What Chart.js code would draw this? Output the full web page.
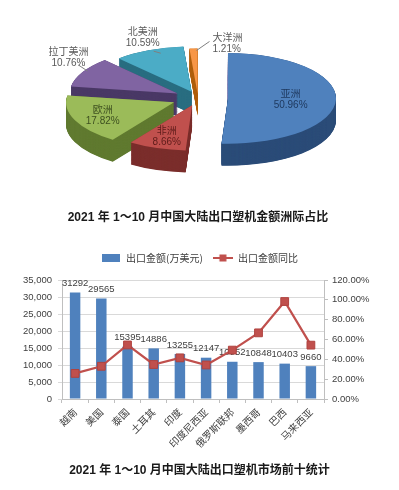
<!DOCTYPE html>
<html>
<head>
<meta charset="utf-8">
<script src="https://cdn.jsdelivr.net/npm/chart.js@4.4.1/dist/chart.umd.min.js"></script>
<style>
html,body{margin:0;padding:0;background:#fff;}
#wrap{position:relative;width:399px;height:490px;overflow:hidden;background:#fff;}
#pie{position:absolute;left:0;top:0;}
#bar{position:absolute;left:0;top:240px;}
</style>
</head>
<body>
<div id="wrap">
<canvas id="pie" width="399" height="240"></canvas>
<canvas id="bar" width="399" height="250"></canvas>
</div>
<script>
// ---------- data ----------
const continents = ['亚洲', '非洲', '欧洲', '拉丁美洲', '北美洲', '大洋洲'];
const continentShares = [50.96, 8.66, 17.82, 10.76, 10.59, 1.21];

const countries = ['越南', '美国', '泰国', '土耳其', '印度', '印度尼西亚', '俄罗斯联邦', '墨西哥', '巴西', '马来西亚'];
const exportValues = [31292, 29565, 15395, 14886, 13255, 12147, 10952, 10848, 10403, 9660];
const yoyGrowth = [25.8, 33.0, 54.5, 34.8, 41.5, 34.3, 49.3, 66.7, 98.3, 54.3];

const pieTitle = '2021 年 1～10 月中国大陆出口塑机金额洲际占比';
const barTitle = '2021 年 1～10 月中国大陆出口塑机市场前十统计';
const seriesNames = ['出口金额(万美元)', '出口金额同比'];

// ---------- styles ----------
const CJK = '"Noto Sans CJK SC", "Liberation Sans", sans-serif';
const LAT = '"Liberation Sans", "Noto Sans CJK SC", sans-serif';
const pieColors = ['#4F81BD', '#C0504D', '#9BBB59', '#8064A2', '#4BACC6', '#F79646'];
const pieSides  = ['#2B4C78', '#7B2E2C', '#607A30', '#4A3966', '#2A6E80', '#B0600F'];
const pieExplode = [30, 18, 26, 23, 16, 10]; // explosion distance (unsquashed px)
const TILT = 0.42;
const DEPTH = 22; // screen px

function halfOf(el) { return (el.startAngle + el.endAngle) / 2; }

// 3D pie: squash, explode and extrude the library's arc elements
const pie3d = {
  id: 'pie3d',
  beforeDatasetsDraw(chart, args, o) {
    const ctx = chart.ctx;
    const meta = chart.getDatasetMeta(0);
    const cx = meta.data[0].x, cy = meta.data[0].y;
    ctx.save();
    ctx.translate(cx, cy);
    ctx.scale(1, o.tilt);
    ctx.translate(-cx, -cy);
    const idx = meta.data.map((e, i) => i);
    idx.sort((a, b) => Math.sin(halfOf(meta.data[a])) - Math.sin(halfOf(meta.data[b])));
    const depthU = o.depth / o.tilt;
    // side walls
    for (const i of idx) {
      const el = meta.data[i];
      const h = halfOf(el);
      const dx = Math.cos(h) * o.explode[i], dy = Math.sin(h) * o.explode[i];
      const orig = el.options;
      el.options = Object.assign({}, orig, {backgroundColor: o.sideColors[i], borderColor: o.sideColors[i], borderWidth: 0});
      for (let d = depthU; d > 0; d -= 1) {
        ctx.save();
        ctx.translate(dx, dy + d);
        el.draw(ctx);
        ctx.restore();
      }
      el.options = orig;
    }
    // top faces
    for (const i of idx) {
      const el = meta.data[i];
      const h = halfOf(el);
      ctx.save();
      ctx.translate(Math.cos(h) * o.explode[i], Math.sin(h) * o.explode[i]);
      el.draw(ctx);
      ctx.restore();
    }
    ctx.restore();
    return false;
  }
};

const pieLabels = {
  id: 'pieLabels',
  afterDraw(chart, args, o) {
    const ctx = chart.ctx;
    const meta = chart.getDatasetMeta(0);
    const k = o.tilt;
    meta.data.forEach((el, i) => {
      const half = halfOf(el);
      const t = o.explode[i];
      const R = el.outerRadius;
      const px = f => el.x + Math.cos(half) * (t + R * f);
      const py = f => el.y + Math.sin(half) * (t + R * f) * k;
      const lines = [chart.data.labels[i], chart.data.datasets[0].data[i].toFixed(2) + '%'];
      const cfg = o.items[i];
      ctx.save();
      ctx.textBaseline = 'middle';
      let x, y;
      if (cfg.inside) {
        x = px(cfg.f); y = py(cfg.f);
        ctx.fillStyle = cfg.color;
        ctx.textAlign = 'center';
      } else {
        const ax = px(1), ay = py(1);
        ctx.strokeStyle = '#7F7F7F';
        ctx.lineWidth = 1;
        ctx.beginPath();
        ctx.moveTo(ax + cfg.lead[0], ay + cfg.lead[1]);
        ctx.lineTo(ax + cfg.lead[2], ay + cfg.lead[3]);
        ctx.stroke();
        ctx.fillStyle = '#595959';
        ctx.textAlign = cfg.align;
        x = ax + cfg.text[0]; y = ay + cfg.text[1];
      }
      ctx.font = '10px ' + CJK;
      ctx.fillText(lines[0], x, y - 6);
      ctx.font = '10px ' + LAT;
      ctx.fillText(lines[1], x, y + 6);
      ctx.restore();
    });
  }
};

new Chart(document.getElementById('pie'), {
  type: 'pie',
  data: {
    labels: continents,
    datasets: [{
      data: continentShares,
      backgroundColor: pieColors,
      borderWidth: 0,
      radius: 108,
      clip: false
    }]
  },
  options: {
    responsive: false,
    animation: false,
    events: [],
    layout: {padding: {left: 0, right: 3, top: 0, bottom: 0}},
    plugins: {
      legend: {display: false},
      tooltip: {enabled: false},
      title: {
        display: true, position: 'bottom', text: pieTitle, color: '#1A1A1A',
        font: {family: LAT, size: 12, weight: 'bold', lineHeight: 1.2},
        padding: {top: 14.8, bottom: 14.8}
      },
      pie3d: {tilt: TILT, depth: DEPTH, sideColors: pieSides, explode: pieExplode},
      pieLabels: {
        tilt: TILT,
        explode: pieExplode,
        items: [
          {inside: true, f: 0.58, color: '#1F3A60'},
          {inside: true, f: 0.72, color: '#5E1C1A'},
          {inside: true, f: 0.72, color: '#3E5020'},
          {inside: false, align: 'center', text: [-14, -15], lead: [5, -1, -4, -7]},
          {inside: false, align: 'center', text: [-6, -13], lead: [5, 1, 12, 3]},
          {inside: false, align: 'left', text: [19, -5], lead: [3, 2, 16, -7]}
        ]
      }
    }
  },
  plugins: [pie3d, pieLabels]
});

// ---------- bar + line ----------
function makeIcon(kind) {
  const c = document.createElement('canvas');
  if (kind === 'bar') {
    c.width = 18; c.height = 8;
    const g = c.getContext('2d');
    g.fillStyle = '#4F81BD';
    g.fillRect(0, 0, 18, 8);
  } else {
    c.width = 20; c.height = 10;
    const g = c.getContext('2d');
    g.strokeStyle = '#C0504D'; g.lineWidth = 2;
    g.beginPath(); g.moveTo(0, 5); g.lineTo(20, 5); g.stroke();
    g.fillStyle = '#C0504D';
    g.fillRect(6.5, 1.5, 7, 7);
  }
  return c;
}
const legendIcons = [makeIcon('bar'), makeIcon('line')];

const barLabels = {
  id: 'barLabels',
  afterDatasetDraw(chart, args) {
    if (args.index !== 0) return;
    const ctx = chart.ctx;
    ctx.save();
    ctx.font = '9.5px ' + LAT;
    ctx.fillStyle = '#404040';
    ctx.textAlign = 'center';
    ctx.textBaseline = 'middle';
    args.meta.data.forEach((el, i) => {
      ctx.fillText(String(chart.data.datasets[0].data[i]), el.x, el.y - 9);
    });
    ctx.restore();
  }
};

const tickFont = {family: LAT, size: 9.5};

new Chart(document.getElementById('bar'), {
  data: {
    labels: countries,
    datasets: [
      {
        type: 'bar', label: seriesNames[0], data: exportValues, yAxisID: 'y',
        backgroundColor: '#4F81BD', barPercentage: 0.4, categoryPercentage: 1.0, order: 1
      },
      {
        type: 'line', label: seriesNames[1], data: yoyGrowth, yAxisID: 'y1',
        borderColor: '#C0504D', borderWidth: 2.25, tension: 0,
        pointStyle: 'rect', pointRadius: 5.5, pointBackgroundColor: '#C0504D',
        pointBorderColor: '#B0433F', pointBorderWidth: 1, order: 0
      }
    ]
  },
  options: {
    responsive: false,
    animation: false,
    events: [],
    layout: {padding: {top: 3, left: 0, right: 0, bottom: 0}},
    scales: {
      x: {
        grid: {drawOnChartArea: false, color: '#BFBFBF', tickLength: 4, offset: true},
        border: {color: '#BFBFBF'},
        ticks: {minRotation: 45, maxRotation: 45, autoSkip: false, padding: 3,
                font: {family: CJK, size: 10}, color: '#404040'},
        afterFit(s) { s.height = 56.6; }
      },
      y: {
        position: 'left', min: 0, max: 35000,
        ticks: {stepSize: 5000, padding: 6, font: tickFont, color: '#404040'},
        grid: {color: '#D9D9D9', tickLength: 4},
        border: {color: '#BFBFBF'},
        afterFit(s) { s.width = 62; }
      },
      y1: {
        position: 'right', min: 0, max: 120,
        ticks: {stepSize: 20, padding: 4, font: tickFont, color: '#404040',
                callback: v => v.toFixed(2) + '%'},
        grid: {drawOnChartArea: false, color: '#BFBFBF', tickLength: 4},
        border: {color: '#BFBFBF'},
        afterFit(s) { s.width = 75; }
      }
    },
    plugins: {
      tooltip: {enabled: false},
      legend: {
        position: 'top',
        labels: {
          usePointStyle: true, pointStyleWidth: 20, padding: 10,
          font: {family: CJK, size: 10}, color: '#404040',
          sort: (a, b) => a.datasetIndex - b.datasetIndex,
          generateLabels(chart) {
            const items = Chart.defaults.plugins.legend.labels.generateLabels(chart);
            items.forEach(it => { it.pointStyle = legendIcons[it.datasetIndex]; });
            return items;
          }
        }
      },
      subtitle: {display: true, text: ' ', position: 'top', weight: 500, padding: 0,
                 font: {size: 7, lineHeight: 1}},
      title: {
        display: true, position: 'bottom', text: barTitle, color: '#1A1A1A',
        font: {family: LAT, size: 12, weight: 'bold', lineHeight: 1.2},
        padding: {top: 8, bottom: 12}
      }
    }
  },
  plugins: [barLabels]
});
</script>
</body>
</html>
